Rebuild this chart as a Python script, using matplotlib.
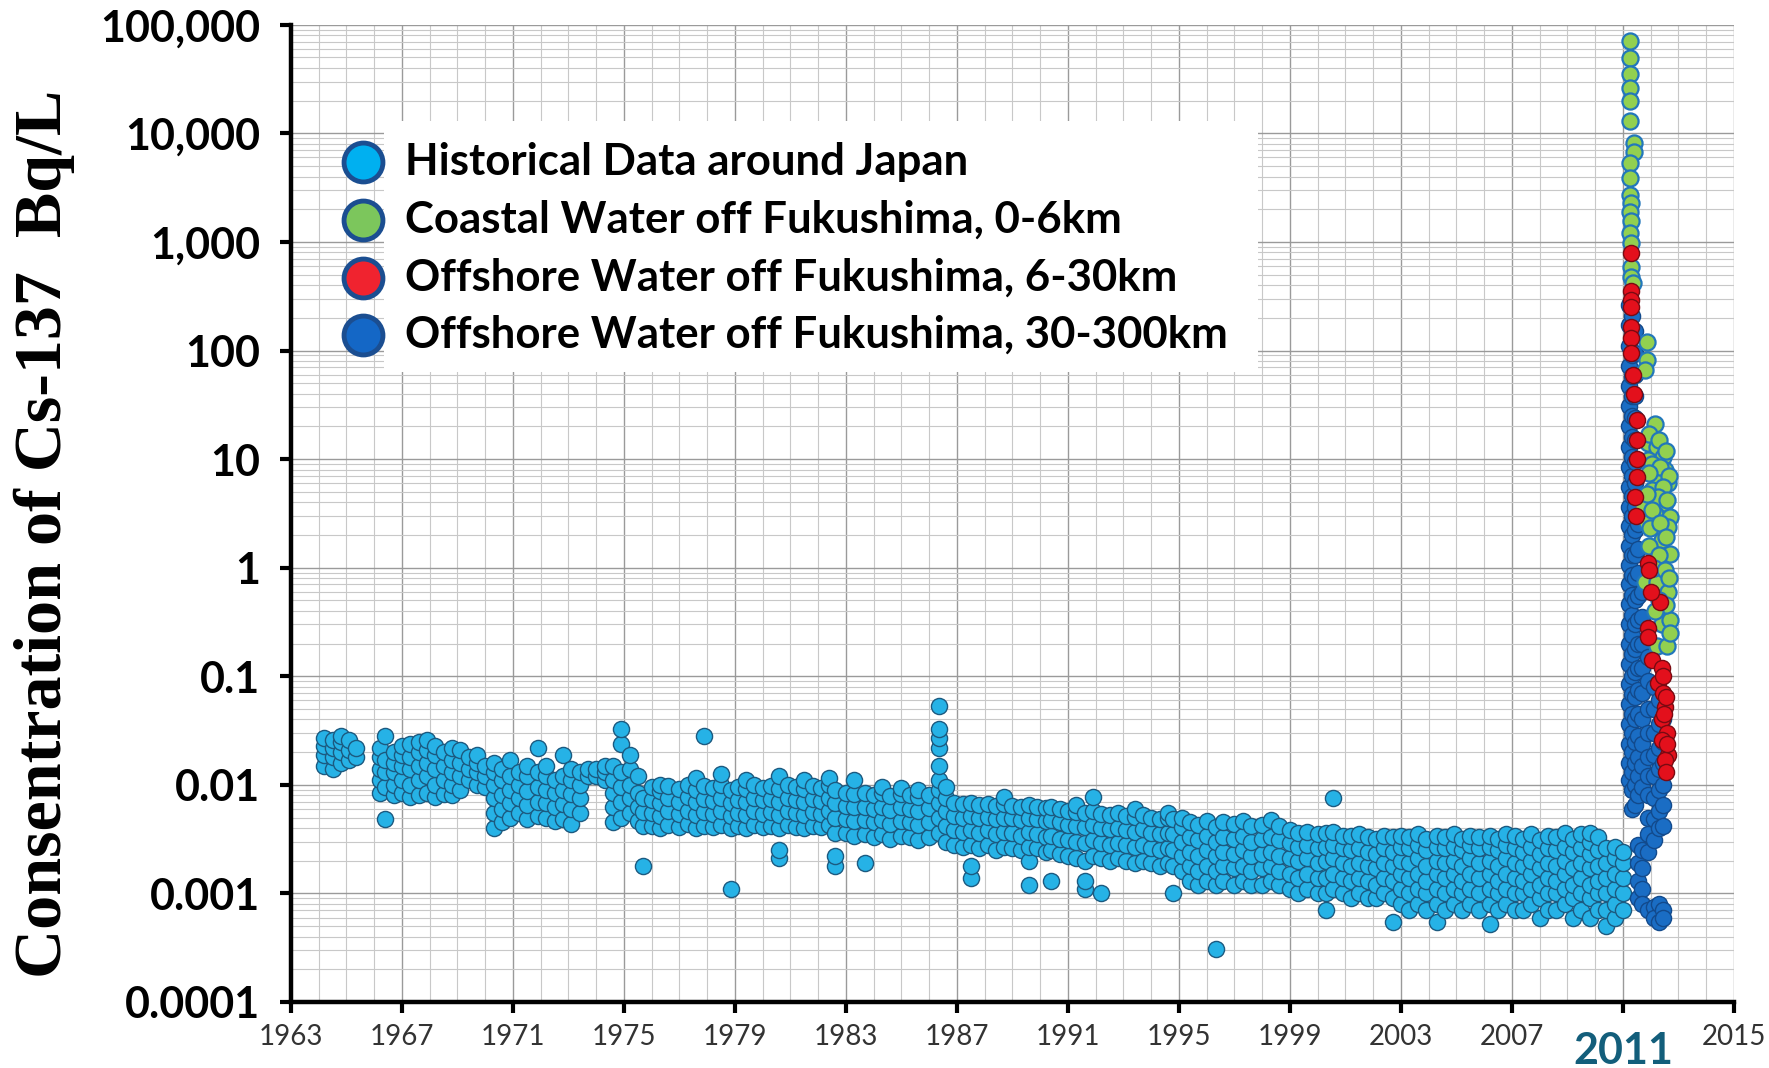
import matplotlib.pyplot as plt
from matplotlib.patches import Rectangle
from matplotlib.ticker import FixedLocator, LogLocator, NullFormatter

# Historical data around Japan: sampling date and the concentrations seen at it (Bq/L)
hist_dates = [
    1964.2, 1964.5, 1964.8, 1965.1, 1965.35,
    1966.2, 1966.4, 1966.7, 1967.0, 1967.3, 1967.6, 1967.9, 1968.2, 1968.5, 1968.8,
    1969.1, 1969.4, 1969.7, 1970.0, 1970.3, 1970.6, 1970.9, 1971.2, 1971.5, 1971.9,
    1972.2, 1972.5, 1972.8, 1973.1, 1973.4, 1973.7, 1974.0, 1974.3, 1974.6, 1974.9,
    1975.2, 1975.5, 1975.7, 1976.0, 1976.3, 1976.6, 1977.0, 1977.3, 1977.6, 1977.9,
    1978.2, 1978.5, 1978.85, 1979.1, 1979.4, 1979.7, 1980.0, 1980.3, 1980.6, 1980.9,
    1981.2, 1981.5, 1981.8, 1982.1, 1982.4, 1982.6, 1983.0, 1983.3, 1983.7, 1984.0,
    1984.3, 1984.6, 1985.0, 1985.3, 1985.6, 1986.0, 1986.35, 1986.6, 1986.9, 1987.2,
    1987.5, 1987.8, 1988.1, 1988.4, 1988.7, 1989.0, 1989.3, 1989.6, 1989.9, 1990.2,
    1990.4, 1990.7, 1991.0, 1991.3, 1991.6, 1991.9, 1992.2, 1992.5, 1992.8, 1993.1,
    1993.4, 1993.7, 1994.0, 1994.3, 1994.6, 1994.8, 1995.1, 1995.4, 1995.7, 1996.0,
    1996.35, 1996.6, 1997.0, 1997.3, 1997.6, 1998.0, 1998.3, 1998.6, 1999.0, 1999.3,
    1999.6, 2000.0, 2000.3, 2000.55, 2000.9, 2001.2, 2001.5, 2001.8, 2002.1, 2002.4,
    2002.7, 2003.0, 2003.3, 2003.6, 2003.9, 2004.3, 2004.6, 2004.9, 2005.2, 2005.5,
    2005.8, 2006.2, 2006.5, 2006.8, 2007.1, 2007.4, 2007.7, 2008.0, 2008.3, 2008.6,
    2008.9, 2009.2, 2009.5, 2009.8, 2010.1, 2010.4, 2010.7, 2011.0,
]
hist_conc = [
    [0.015, 0.019, 0.023, 0.027], [0.014, 0.018, 0.022, 0.026], [0.016, 0.020, 0.025, 0.028],
    [0.017, 0.021, 0.026], [0.018, 0.022],
    [0.0085, 0.011, 0.014, 0.018, 0.022], [0.0048, 0.0095, 0.013, 0.017, 0.028],
    [0.008, 0.010, 0.013, 0.016, 0.020], [0.0085, 0.011, 0.015, 0.019, 0.023],
    [0.0078, 0.010, 0.014, 0.018, 0.024], [0.0080, 0.011, 0.015, 0.020, 0.025],
    [0.0085, 0.012, 0.016, 0.021, 0.026], [0.0078, 0.010, 0.014, 0.019, 0.023],
    [0.0082, 0.011, 0.015, 0.020], [0.0080, 0.010, 0.013, 0.017, 0.022],
    [0.0090, 0.012, 0.016, 0.021], [0.011, 0.014, 0.018], [0.010, 0.013, 0.016, 0.019],
    [0.0095, 0.012, 0.015], [0.0040, 0.0055, 0.0075, 0.010, 0.013, 0.016],
    [0.0045, 0.006, 0.008, 0.011, 0.014], [0.0050, 0.0068, 0.0090, 0.012, 0.017],
    [0.0055, 0.0075, 0.010, 0.013], [0.0048, 0.0065, 0.0088, 0.012, 0.015],
    [0.0052, 0.0070, 0.0095, 0.013, 0.022], [0.0050, 0.0068, 0.0090, 0.012, 0.015],
    [0.0046, 0.0062, 0.0085, 0.011], [0.0048, 0.0066, 0.0090, 0.012, 0.019],
    [0.0044, 0.0060, 0.0082, 0.011, 0.014], [0.0055, 0.0075, 0.010, 0.013],
    [0.012, 0.014], [0.012, 0.014], [0.011, 0.013, 0.015],
    [0.0045, 0.0062, 0.0085, 0.011, 0.015], [0.0050, 0.0070, 0.0095, 0.013, 0.024, 0.033],
    [0.0055, 0.0075, 0.010, 0.014, 0.019], [0.0046, 0.0062, 0.0085, 0.012],
    [0.0018, 0.0042, 0.0056, 0.0075], [0.0042, 0.0055, 0.0072, 0.0095],
    [0.0040, 0.0052, 0.0068, 0.0088, 0.0100], [0.0043, 0.0057, 0.0075, 0.0098],
    [0.0041, 0.0054, 0.0070, 0.0092], [0.0044, 0.0058, 0.0078, 0.0100],
    [0.0040, 0.0053, 0.0069, 0.0090, 0.0115], [0.0042, 0.0056, 0.0074, 0.0097, 0.028],
    [0.0041, 0.0054, 0.0071, 0.0094], [0.0043, 0.0057, 0.0076, 0.0100, 0.0125],
    [0.0011, 0.0040, 0.0052, 0.0068, 0.0090], [0.0042, 0.0055, 0.0073, 0.0096],
    [0.0040, 0.0053, 0.0070, 0.0092, 0.0110], [0.0043, 0.0057, 0.0075, 0.0099],
    [0.0041, 0.0054, 0.0072, 0.0094], [0.0042, 0.0056, 0.0074, 0.0097],
    [0.0021, 0.0025, 0.0040, 0.0053, 0.0070, 0.0092, 0.0120], [0.0043, 0.0057, 0.0076, 0.0100],
    [0.0041, 0.0055, 0.0072, 0.0095], [0.0040, 0.0053, 0.0069, 0.0091, 0.0110],
    [0.0042, 0.0056, 0.0074, 0.0097], [0.0041, 0.0054, 0.0071, 0.0094],
    [0.0043, 0.0057, 0.0075, 0.0099, 0.0115], [0.0018, 0.0022, 0.0036, 0.0050, 0.0068, 0.0090],
    [0.0036, 0.0048, 0.0064, 0.0085], [0.0034, 0.0046, 0.0062, 0.0082, 0.011],
    [0.0019, 0.0035, 0.0047, 0.0063, 0.0084], [0.0033, 0.0045, 0.0060, 0.0080],
    [0.0035, 0.0047, 0.0063, 0.0084, 0.0095], [0.0032, 0.0044, 0.0059, 0.0079],
    [0.0034, 0.0046, 0.0062, 0.0082, 0.0093], [0.0033, 0.0045, 0.0060, 0.0080],
    [0.0031, 0.0043, 0.0058, 0.0078, 0.0090], [0.0033, 0.0045, 0.0061, 0.0081],
    [0.0036, 0.0050, 0.0068, 0.0090, 0.0110, 0.015, 0.022, 0.027, 0.033, 0.053],
    [0.0030, 0.0042, 0.0057, 0.0075, 0.0095], [0.0028, 0.0038, 0.0052, 0.0068],
    [0.0027, 0.0037, 0.0050, 0.0066], [0.0014, 0.0018, 0.0028, 0.0038, 0.0052, 0.0068],
    [0.0026, 0.0036, 0.0049, 0.0065], [0.0028, 0.0038, 0.0051, 0.0067],
    [0.0025, 0.0035, 0.0048, 0.0064], [0.0027, 0.0037, 0.0050, 0.0066, 0.0078],
    [0.0026, 0.0036, 0.0049, 0.0064], [0.0025, 0.0034, 0.0047, 0.0062],
    [0.0012, 0.0020, 0.0027, 0.0037, 0.0050, 0.0065], [0.0026, 0.0035, 0.0048, 0.0063],
    [0.0024, 0.0033, 0.0046, 0.0061], [0.0013, 0.0025, 0.0034, 0.0047, 0.0062],
    [0.0023, 0.0032, 0.0045, 0.0060], [0.0022, 0.0031, 0.0043, 0.0058],
    [0.0021, 0.0030, 0.0042, 0.0056, 0.0065], [0.0011, 0.0013, 0.0020, 0.0029, 0.0041, 0.0055],
    [0.0022, 0.0031, 0.0043, 0.0058, 0.0078], [0.0010, 0.0021, 0.0029, 0.0040, 0.0054],
    [0.0020, 0.0028, 0.0039, 0.0053], [0.0021, 0.0029, 0.0040, 0.0055],
    [0.0020, 0.0028, 0.0038, 0.0052], [0.0019, 0.0027, 0.0037, 0.0051, 0.0060],
    [0.0020, 0.0028, 0.0039, 0.0053], [0.0019, 0.0026, 0.0036, 0.0050],
    [0.0018, 0.0025, 0.0035, 0.0048], [0.0019, 0.0026, 0.0036, 0.0049, 0.0055],
    [0.0010, 0.0018, 0.0025, 0.0035, 0.0048], [0.0016, 0.0022, 0.0030, 0.0041, 0.0050],
    [0.0013, 0.0018, 0.0024, 0.0033, 0.0045], [0.0012, 0.0016, 0.0022, 0.0031, 0.0043],
    [0.0013, 0.0018, 0.0025, 0.0034, 0.0046], [0.00031, 0.0012, 0.0016, 0.0022, 0.0030, 0.0041],
    [0.0013, 0.0018, 0.0024, 0.0033, 0.0045], [0.0012, 0.0017, 0.0023, 0.0032, 0.0044],
    [0.0013, 0.0018, 0.0025, 0.0034, 0.0046], [0.0012, 0.0016, 0.0022, 0.0030, 0.0042],
    [0.0012, 0.0017, 0.0023, 0.0032, 0.0043], [0.0013, 0.0018, 0.0024, 0.0033, 0.0047],
    [0.0012, 0.0016, 0.0022, 0.0031, 0.0042], [0.0011, 0.0015, 0.0021, 0.0029, 0.0038],
    [0.0010, 0.0014, 0.0020, 0.0027, 0.0036], [0.0011, 0.0015, 0.0021, 0.0028, 0.0037],
    [0.0010, 0.0014, 0.0019, 0.0026, 0.0035], [0.0007, 0.0010, 0.0014, 0.0020, 0.0027, 0.0036],
    [0.0011, 0.0015, 0.0021, 0.0028, 0.0037, 0.0075], [0.0010, 0.0014, 0.0019, 0.0026, 0.0034],
    [0.0009, 0.0013, 0.0018, 0.0025, 0.0034], [0.0010, 0.0014, 0.0019, 0.0026, 0.0035],
    [0.0009, 0.0013, 0.0018, 0.0024, 0.0033], [0.0009, 0.0012, 0.0017, 0.0023, 0.0032],
    [0.0010, 0.0014, 0.0019, 0.0026, 0.0034], [0.00055, 0.0009, 0.0013, 0.0018, 0.0024, 0.0033],
    [0.0008, 0.0011, 0.0015, 0.0020, 0.0027, 0.0034], [0.0007, 0.0010, 0.0014, 0.0019, 0.0026, 0.0033],
    [0.0008, 0.0011, 0.0015, 0.0021, 0.0028, 0.0035], [0.0007, 0.0010, 0.0013, 0.0018, 0.0025, 0.0032],
    [0.00055, 0.0008, 0.0011, 0.0015, 0.0020, 0.0027, 0.0034],
    [0.0007, 0.0010, 0.0014, 0.0019, 0.0026, 0.0033], [0.0008, 0.0011, 0.0015, 0.0020, 0.0027, 0.0035],
    [0.0007, 0.0010, 0.0013, 0.0018, 0.0025, 0.0032], [0.0008, 0.0011, 0.0015, 0.0021, 0.0028, 0.0034],
    [0.0007, 0.0010, 0.0014, 0.0019, 0.0026, 0.0033],
    [0.00052, 0.0008, 0.0011, 0.0015, 0.0020, 0.0027, 0.0034],
    [0.0007, 0.0010, 0.0013, 0.0018, 0.0025, 0.0032], [0.0008, 0.0011, 0.0015, 0.0021, 0.0028, 0.0035],
    [0.0007, 0.0010, 0.0014, 0.0019, 0.0026, 0.0034], [0.0007, 0.0010, 0.0013, 0.0018, 0.0024, 0.0032],
    [0.0008, 0.0011, 0.0015, 0.0020, 0.0027, 0.0035], [0.0006, 0.0009, 0.0012, 0.0017, 0.0023, 0.0031],
    [0.0007, 0.0010, 0.0014, 0.0019, 0.0026, 0.0034], [0.0007, 0.0010, 0.0013, 0.0018, 0.0025, 0.0033],
    [0.0008, 0.0011, 0.0015, 0.0020, 0.0027, 0.0036], [0.0006, 0.0009, 0.0012, 0.0017, 0.0024, 0.0032],
    [0.0007, 0.0010, 0.0014, 0.0019, 0.0026, 0.0035],
    [0.0006, 0.0009, 0.0012, 0.0017, 0.0023, 0.0030, 0.0036],
    [0.0007, 0.0010, 0.0013, 0.0018, 0.0025, 0.0033], [0.0005, 0.0007, 0.0010, 0.0014, 0.0019, 0.0026],
    [0.0006, 0.0008, 0.0011, 0.0015, 0.0021, 0.0027], [0.0007, 0.0010, 0.0014, 0.0019, 0.0024],
]

# Offshore water off Fukushima, 30-300 km
far_dates = [2011.22, 2011.32, 2011.42, 2011.55, 2011.7, 2011.9, 2012.1, 2012.3, 2012.45]
far_conc = [
    [260, 170, 110, 72, 47, 31, 20, 13, 8.5, 5.5, 3.6, 2.4, 1.6, 1.05, 0.7, 0.46, 0.3, 0.2,
     0.13, 0.085, 0.055, 0.036, 0.024, 0.016, 0.011],
    [210, 140, 90, 58, 38, 25, 16, 10.5, 7, 4.6, 3, 2, 1.3, 0.85, 0.56, 0.37, 0.24, 0.16,
     0.1, 0.068, 0.045, 0.03, 0.02, 0.013, 0.009, 0.006],
    [150, 95, 60, 38, 24, 15, 9.5, 6, 3.6, 2.2, 1.3, 0.8, 0.5, 0.3, 0.18, 0.11, 0.065, 0.04,
     0.025, 0.016, 0.01, 0.0065],
    [2.5, 1.5, 0.9, 0.55, 0.33, 0.2, 0.12, 0.075, 0.045, 0.028, 0.018, 0.012, 0.008,
     0.0028, 0.0019, 0.0013, 0.0009],
    [0.6, 0.35, 0.2, 0.12, 0.07, 0.04, 0.024, 0.015, 0.0095, 0.0025, 0.0017, 0.0011, 0.0008],
    [0.15, 0.09, 0.05, 0.03, 0.018, 0.012, 0.008, 0.005, 0.0035, 0.0024, 0.0007],
    [0.08, 0.05, 0.03, 0.019, 0.012, 0.0075, 0.0048, 0.0031, 0.00075, 0.0006],
    [0.06, 0.036, 0.022, 0.014, 0.009, 0.0058, 0.004, 0.0008, 0.00055],
    [0.04, 0.025, 0.016, 0.01, 0.0065, 0.0042, 0.0007, 0.0006],
]

# Coastal water off Fukushima, 0-6 km
coastal_dates = [2011.25, 2011.25, 2011.25, 2011.25, 2011.25, 2011.25, 2011.4, 2011.4,
                 2011.25, 2011.25, 2011.25, 2011.3, 2011.25, 2011.3, 2011.25, 2011.3,
                 2011.3, 2011.3, 2011.35,
                 2011.86, 2011.86, 2011.79, 2012.15, 2011.9, 2012.22, 2012.43, 2011.9,
                 2012.5, 2012.26, 2012.62, 2012.04, 2012.5, 2011.72, 2012.15, 2012.69,
                 2011.86, 2011.97, 2012.62, 2012.4, 2012.69, 2011.79, 2012.22, 2012.62,
                 2012.4, 2012.69, 2012.22, 2012.58,
                 2011.95, 2012.3, 2012.55, 2012.05, 2012.35, 2012.65, 2011.95, 2012.45,
                 2012.25, 2012.6, 2011.85, 2012.05, 2012.35, 2012.55, 2011.95, 2012.3,
                 2012.1, 2012.5, 2012.65, 2012.3, 2012.55, 2012.7, 2012.15]
coastal_conc = [71000, 49000, 35000, 26000, 20000, 13000, 8100, 6800,
                5300, 3900, 2700, 2300, 1900, 1550, 1200, 980,
                590, 480, 420,
                120, 82, 66, 21, 14, 13, 10.5, 9.8,
                7.9, 6.1, 6.0, 5.2, 3.9, 3.6, 3.1, 2.9,
                2.6, 2.3, 2.35, 1.8, 1.35, 0.74, 0.74, 0.6,
                0.30, 0.33, 0.19, 0.19,
                17, 15, 12, 9, 8.5, 7, 7.5, 5.5,
                4.5, 4.2, 4.8, 3.4, 2.6, 1.9, 1.6, 1.3,
                1.0, 0.95, 0.8, 0.5, 0.45, 0.25, 0.4]

# Offshore water off Fukushima, 6-30 km
offshore_dates = [2011.28, 2011.3, 2011.3, 2011.3, 2011.3, 2011.3, 2011.3,
                  2011.5, 2011.5, 2011.52, 2011.52, 2011.9, 2011.95, 2012.33, 2011.9, 2011.9,
                  2012.05, 2012.41, 2012.26, 2012.43, 2012.5, 2012.41, 2012.58, 2012.41,
                  2012.62, 2012.5,
                  2011.35, 2011.38, 2011.45, 2011.48, 2012.0, 2012.45, 2012.55, 2012.48,
                  2012.6, 2012.55]
offshore_conc = [790, 350, 290, 250, 165, 130, 95,
                 23, 15, 10, 6.8, 1.1, 0.95, 0.48, 0.28, 0.23,
                 0.14, 0.12, 0.087, 0.070, 0.052, 0.040, 0.030, 0.026,
                 0.019, 0.017,
                 60, 40, 4.5, 3, 0.6, 0.1, 0.065, 0.045,
                 0.024, 0.013]

series_labels = ['Historical Data around Japan',
                 'Coastal Water off Fukushima, 0-6km',
                 'Offshore Water off Fukushima, 6-30km',
                 'Offshore Water off Fukushima, 30-300km']
legend_colors = ['#00B0F0', '#7CC65C', '#F0232F', '#1467C6']

y_ticks = [1e-4, 1e-3, 1e-2, 1e-1, 1, 10, 100, 1e3, 1e4, 1e5]
y_labels = ['0.0001', '0.001', '0.01', '0.1', '1', '10', '100', '1,000', '10,000', '100,000']
x_ticks = list(range(1963, 2016, 4))


def flatten(dates, groups):
    xs, ys = [], []
    for d, vals in zip(dates, groups):
        xs.extend([d] * len(vals))
        ys.extend(vals)
    return xs, ys


fig = plt.figure(figsize=(17.69, 10.68), dpi=100)
ax = fig.add_axes([0.1645, 0.0618, 0.8157, 0.915])

ax.set_yscale('log')
ax.set_xlim(1963, 2015)
ax.set_ylim(1e-4, 1e5)

# Scatter clouds
msize = 135
hx, hy = flatten(hist_dates, hist_conc)
ax.scatter(hx, hy, s=msize, c='#26B2E6', edgecolors='#1C5A80', linewidths=1.0, zorder=3)
fx, fy = flatten(far_dates, far_conc)
ax.scatter(fx, fy, s=msize, c='#1A6DC4', edgecolors='#124A8C', linewidths=1.0, zorder=4)
ax.scatter(coastal_dates, coastal_conc, s=msize, c='#92D050', edgecolors='#2277BB',
           linewidths=1.6, zorder=5)
ax.scatter(offshore_dates, offshore_conc, s=msize, c='#E3101C', edgecolors='#7A0A12',
           linewidths=1.0, zorder=6)

# Grid
ax.set_axisbelow(True)
ax.xaxis.set_major_locator(FixedLocator(x_ticks))
ax.xaxis.set_minor_locator(FixedLocator(list(range(1963, 2016))))
ax.yaxis.set_major_locator(FixedLocator(y_ticks))
ax.yaxis.set_minor_locator(LogLocator(base=10, subs=range(2, 10), numticks=20))
ax.yaxis.set_minor_formatter(NullFormatter())
ax.grid(which='major', color='#9a9a9a', linewidth=1.0)
ax.grid(which='minor', color='#c8c8c8', linewidth=0.8)

# Axes styling
for side in ['top', 'right']:
    ax.spines[side].set_visible(False)
for side in ['left', 'bottom']:
    ax.spines[side].set_linewidth(3.2)
    ax.spines[side].set_color('black')
ax.tick_params(which='minor', length=0)
ax.tick_params(axis='y', which='major', length=8, width=3, pad=14)
ax.tick_params(axis='x', which='major', length=8, width=3, pad=8)

ax.set_yticklabels(y_labels, fontfamily='Lato', fontweight='bold', fontsize=31)
x_labels = ['' if t == 2011 else str(t) for t in x_ticks]
ax.set_xticklabels(x_labels, fontfamily='Lato', fontsize=20, color='#333333')
ax.text(2011, -0.05, '2011', transform=ax.get_xaxis_transform(), ha='center', va='center',
        fontfamily='Lato', fontweight='bold', fontsize=31, color='#135E7B')

fig.text(0.025, 0.5, 'Consentration of Cs-137  Bq/L', rotation=90, ha='center', va='center',
         fontfamily='Liberation Serif', fontweight='bold', fontsize=49)

# Legend drawn as a white panel with markers that overhang its left edge
fig.patches.append(Rectangle((0.217, 0.6517), 0.494, 0.235, transform=fig.transFigure,
                             facecolor='white', edgecolor='none', zorder=8))
row_y = [0.8483, 0.794, 0.740, 0.6863]
for label, color, yy in zip(series_labels, legend_colors, row_y):
    fig.lines.append(plt.Line2D([0.2052], [yy], transform=fig.transFigure, marker='o',
                                markersize=28, markerfacecolor=color,
                                markeredgecolor='#1B4E91', markeredgewidth=3.5,
                                linestyle='none', zorder=9))
    fig.text(0.229, yy, label, ha='left', va='center', fontfamily='Lato',
             fontweight='bold', fontsize=31.5, zorder=10)

fig.savefig('out.png', dpi=100, facecolor='white')
